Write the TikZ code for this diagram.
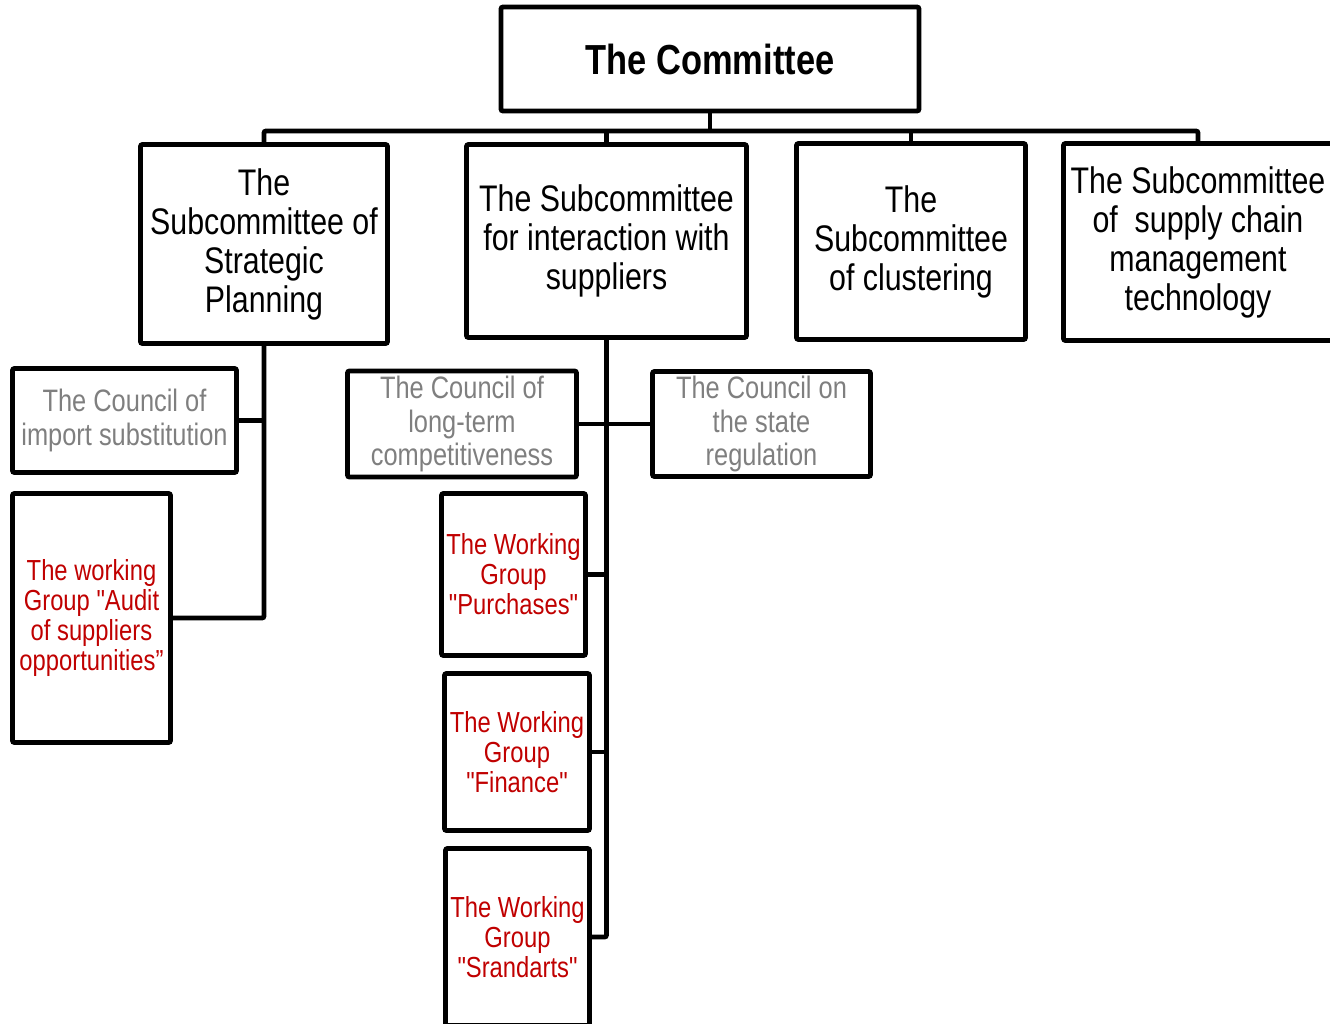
\documentclass[tikz,border=0pt]{standalone}
\usepackage{fontspec}
\setmainfont{Liberation Sans}[FakeStretch=0.82, Ligatures=TeXOff]
\usetikzlibrary{positioning}
\definecolor{colorcnl}{HTML}{7F7F7F}
\definecolor{colorwg}{HTML}{C00000}
\tikzset{box/.style={draw, line width=2.4pt, rounded corners=1pt, inner sep=0pt, align=center}}
\tikzset{cmt/.style={box, font=\fontsize{21}{25}\selectfont\bfseries}}
\tikzset{sub/.style={box, font=\fontsize{18.5}{19.5}\selectfont}}
\tikzset{cnl/.style={box, text=colorcnl, font=\fontsize{15.5}{16.75}\selectfont}}
\tikzset{wgp/.style={box, text=colorwg, font=\fontsize{14.5}{15}\selectfont}}
\tikzset{link/.style={line width=2.4pt, rounded corners=1pt}}

\begin{document}
\begin{tikzpicture}[x=0.5pt, y=-0.5pt]
\useasboundingbox (0,0) rectangle (1330,1024);
% top level
\node[cmt, minimum width=209pt, minimum height=52pt](comm) at (710,59) {The Committee};
% subcommittees
\node[sub, minimum width=123.5pt, minimum height=99.5pt](sp) at (264,244) {The\\Subcommittee of\\Strategic\\Planning};
\node[sub, minimum width=140pt, minimum height=96.5pt](si) at (606.5,241) {The Subcommittee\\for interaction with\\suppliers};
\node[sub, minimum width=114.5pt, minimum height=98pt](cl) at (911,241.5) {The\\Subcommittee\\of clustering};
\node[sub, minimum width=134.5pt, minimum height=98.5pt](sc) at (1198,242) {The Subcommittee\\of~ supply chain\\management\\technology};
% councils
\node[cnl, minimum width=112pt, minimum height=52pt](ci) at (124.5,420.5) {The Council of\\import substitution};
\node[cnl, minimum width=114.5pt, minimum height=53pt](cc) at (462,424) {The Council of\\long-term\\competitiveness};
\node[cnl, minimum width=109pt, minimum height=52.5pt](cs) at (761.5,424) {The Council on\\the state\\regulation};
% working groups
\node[wgp, minimum width=79pt, minimum height=124.5pt](ca) at (91.5,618) {The working\\Group "Audit\\of suppliers\\opportunities”};
\node[wgp, minimum width=72pt, minimum height=81pt](wp) at (513.5,574.5) {The Working\\Group\\"Purchases"};
\node[wgp, minimum width=72.5pt, minimum height=78.5pt](wf) at (517,752) {The Working\\Group\\"Finance"};
\node[wgp, minimum width=72pt, minimum height=88.5pt](ws) at (517.5,937) {The Working\\Group\\"Srandarts"};
% links
\coordinate (bus) at (710,131);
\draw[link] (comm.south) -- (bus);
\draw[link] (sp.north) |- (bus) -| (sc.north);
\draw[link] (si.north) -- (si.north |- bus);
\draw[link] (cl.north) -- (cl.north |- bus);
\draw[link] (sp.south) |- (ca.east);
\draw[link] (ci.east) -- (ci.east -| sp.south);
\draw[link] (si.south) |- (ws.east);
\draw[link] (cc.east) -- (cs.west);
\draw[link] (wp.east) -- (wp.east -| si.south);
\draw[link] (wf.east) -- (wf.east -| si.south);
\end{tikzpicture}
\end{document}
